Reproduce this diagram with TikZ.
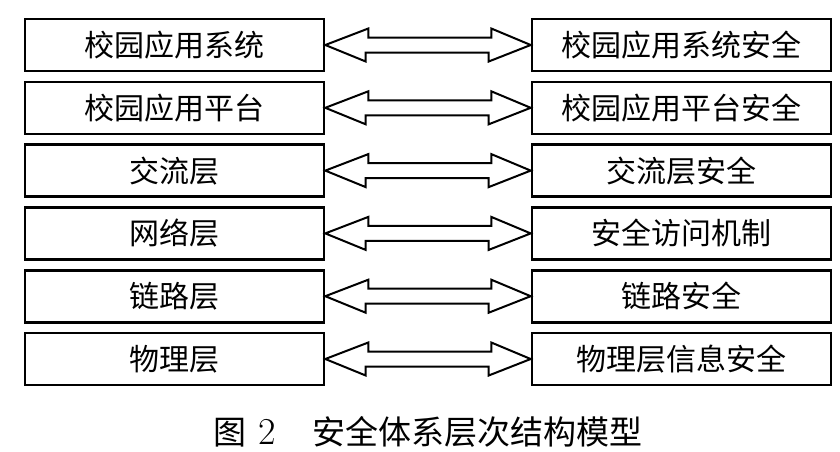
\documentclass[tikz,border=0pt]{standalone}
\usepackage{fontspec}
\newfontfamily\cjk{Noto Sans CJK SC}
\usepackage{tikz}
\usetikzlibrary{positioning}
\usetikzlibrary{calc}
\tikzstyle{layer}=[rectangle,draw=black,line width=1.3pt,minimum width=149.5pt,minimum height=26pt,inner sep=0pt,font=\cjk\fontsize{15}{16}\selectfont]
\tikzstyle{dblarrow}=[draw=black,line width=1pt,fill=white,line join=miter]
\tikzstyle{caption} = [font=\fontsize{16.5}{18}\selectfont]

\begin{document}
\begin{tikzpicture}[x=0.5pt,y=-0.5pt]
\useasboundingbox (0,0) rectangle (840,451);

%Layers
    \foreach \pos/\name/\label in {{(174.5,45)/l1/校园应用系统}, {(174.5,107.8)/l2/校园应用平台}, {(174.5,170.6)/l3/交流层}, {(174.5,233.4)/l4/网络层}, {(174.5,296.2)/l5/链路层}, {(174.5,359)/l6/物理层}}
        \node[layer] (\name) at \pos {\label};

%Security
    \foreach \pos/\name/\label in {{(681.5,45)/r1/校园应用系统安全}, {(681.5,107.8)/r2/校园应用平台安全}, {(681.5,170.6)/r3/交流层安全}, {(681.5,233.4)/r4/安全访问机制}, {(681.5,296.2)/r5/链路安全}, {(681.5,359)/r6/物理层信息安全}}
        \node[layer] (\name) at \pos {\label};

  \foreach \i in {1,...,6}
          \draw[dblarrow] (l\i.east) -- ++(43,-16.5) -- ++(0,9) -- ++(123,0) -- ++(0,-9) -- (r\i.west) -- ++(-42,16.5) -- ++(0,-9) -- ++(-123,0) -- ++(0,9) -- cycle;

\node[caption] (cap) at (428,432) {{\cjk 图}\hspace{0.35em}{\rmfamily\fontsize{19}{19}\selectfont 2}\hspace{1.1em}{\cjk 安全体系层次结构模型}};

\end{tikzpicture}
\end{document}
